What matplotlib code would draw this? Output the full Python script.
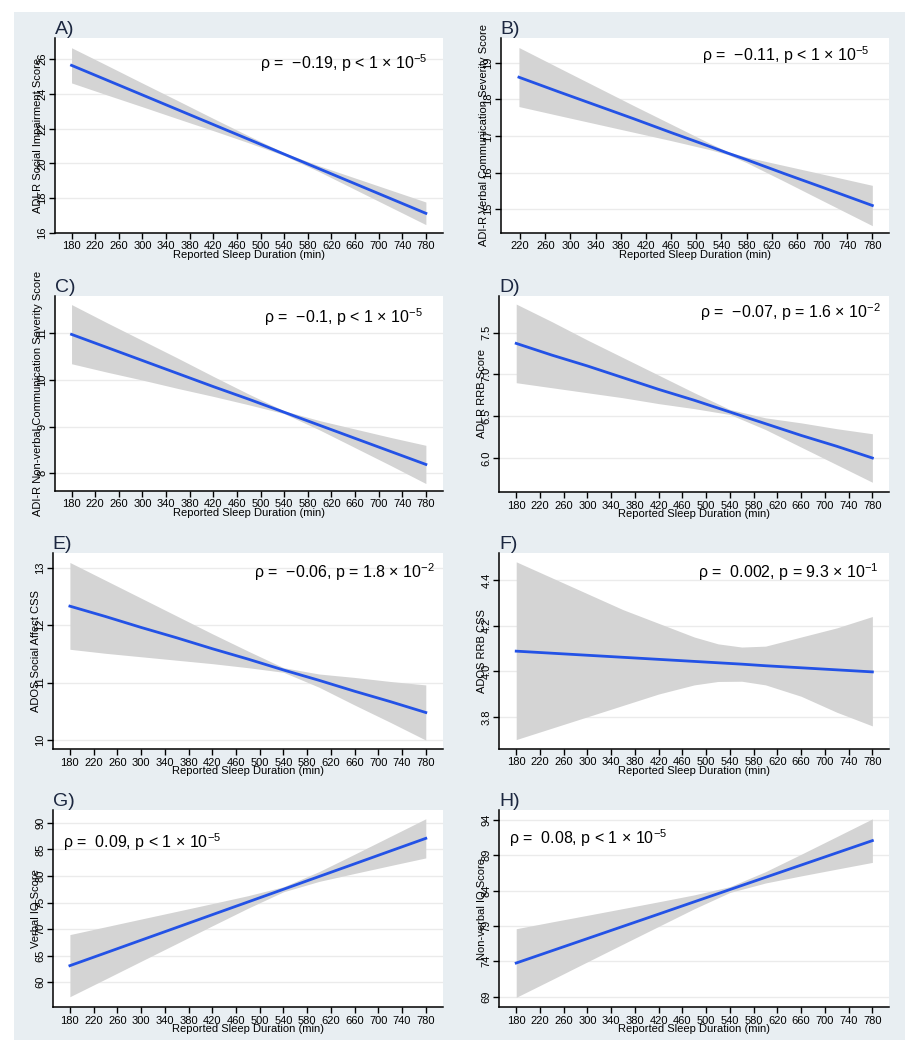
import numpy as np
import matplotlib.pyplot as plt
from matplotlib.patches import Rectangle

plt.rcParams['font.family'] = ['Liberation Sans', 'DejaVu Sans']
plt.rcParams['mathtext.fontset'] = 'custom'
plt.rcParams['mathtext.rm'] = 'Liberation Sans'
plt.rcParams['mathtext.it'] = 'Liberation Sans:italic'
plt.rcParams['mathtext.bf'] = 'Liberation Sans:bold'

# sleep duration grid (min) where fit and CI band were read
sleep = [180, 240, 300, 360, 420, 480, 540, 600, 660, 720, 780]
sleep_b = [218, 280, 340, 400, 460, 520, 550, 580, 640, 700, 780]

fit_a = [25.63, 24.78, 23.93, 23.08, 22.23, 21.38, 20.53, 19.68, 18.83, 17.98, 17.13]
hi_a = [26.64, 25.63, 24.61, 23.60, 22.58, 21.58, 20.61, 19.85, 19.16, 18.47, 17.78]
lo_a = [24.62, 23.93, 23.25, 22.56, 21.88, 21.18, 20.45, 19.51, 18.50, 17.49, 16.48]

fit_b = [18.60, 18.21, 17.84, 17.47, 17.09, 16.72, 16.53, 16.35, 15.97, 15.60, 15.10]
hi_b = [19.41, 18.87, 18.35, 17.83, 17.32, 16.81, 16.57, 16.42, 16.19, 15.96, 15.65]
lo_b = [17.80, 17.56, 17.33, 17.10, 16.87, 16.63, 16.49, 16.27, 15.76, 15.24, 14.55]

fit_c = [10.98, 10.70, 10.42, 10.14, 9.86, 9.59, 9.31, 9.03, 8.75, 8.47, 8.19]
hi_c = [11.62, 11.23, 10.85, 10.47, 10.08, 9.70, 9.34, 9.13, 8.95, 8.77, 8.60]
lo_c = [10.35, 10.17, 10.00, 9.82, 9.65, 9.47, 9.28, 8.93, 8.55, 8.17, 7.78]

fit_d = [7.37, 7.23, 7.10, 6.96, 6.82, 6.69, 6.55, 6.41, 6.27, 6.14, 6.00]
hi_d = [7.84, 7.63, 7.41, 7.20, 6.99, 6.78, 6.58, 6.48, 6.42, 6.35, 6.29]
lo_d = [6.90, 6.84, 6.78, 6.72, 6.65, 6.59, 6.52, 6.34, 6.13, 5.92, 5.71]

fit_e = [12.33, 12.15, 11.96, 11.78, 11.59, 11.41, 11.22, 11.04, 10.85, 10.67, 10.48]
hi_e = [13.09, 12.78, 12.47, 12.16, 11.85, 11.55, 11.26, 11.15, 11.09, 11.02, 10.96]
lo_e = [11.58, 11.51, 11.45, 11.39, 11.33, 11.26, 11.18, 10.92, 10.61, 10.31, 10.00]

# panel F has a wide, rounded band, read at a finer grid
sleep_f = [180, 240, 300, 360, 420, 480, 520, 560, 600, 660, 720, 780]
fit_f = [4.088, 4.079, 4.070, 4.061, 4.052, 4.043, 4.037, 4.031, 4.024, 4.015, 4.006, 3.997]
hi_f = [4.48, 4.41, 4.34, 4.27, 4.21, 4.15, 4.12, 4.106, 4.11, 4.15, 4.19, 4.24]
lo_f = [3.70, 3.75, 3.80, 3.85, 3.90, 3.94, 3.955, 3.956, 3.94, 3.89, 3.82, 3.76]

fit_g = [63.13, 65.52, 67.92, 70.31, 72.71, 75.10, 77.49, 79.89, 82.28, 84.68, 87.07]
hi_g = [68.97, 70.43, 71.89, 73.34, 74.80, 76.28, 77.96, 80.81, 84.09, 87.42, 90.75]
lo_g = [57.29, 60.61, 63.95, 67.28, 70.62, 73.92, 77.02, 78.97, 80.47, 81.94, 83.39]

fit_h = [73.76, 75.49, 77.22, 78.95, 80.68, 82.42, 84.15, 85.88, 87.61, 89.34, 91.07]
hi_h = [78.61, 79.57, 80.51, 81.46, 82.42, 83.40, 84.56, 86.68, 89.14, 91.64, 94.15]
lo_h = [68.91, 71.41, 73.93, 76.44, 78.94, 81.44, 83.74, 85.08, 86.08, 87.04, 87.99]

panel_tags = ['A)', 'B)', 'C)', 'D)', 'E)', 'F)', 'G)', 'H)']
ylabels = ['ADI-R Social Impairment Score',
           'ADI-R Verbal Communication Severity Score',
           'ADI-R Non-verbal Communication Severity Score',
           'ADI-R RRB Score',
           'ADOS Social Affect CSS',
           'ADOS RRB CSS',
           'Verbal IQ Score',
           'Non-verbal IQ Score']
stat_text = ['ρ =  \u22120.19, p < 1 × 10$^{-5}$',
             'ρ =  \u22120.11, p < 1 × 10$^{-5}$',
             'ρ =  \u22120.1, p < 1 × 10$^{-5}$',
             'ρ =  \u22120.07, p = 1.6 × 10$^{-2}$',
             'ρ =  \u22120.06, p = 1.8 × 10$^{-2}$',
             'ρ =  0.002, p = 9.3 × 10$^{-1}$',
             'ρ =  0.09, p < 1 × 10$^{-5}$',
             'ρ =  0.08, p < 1 × 10$^{-5}$']
yticks = [[16, 18, 20, 22, 24, 26],
          [15, 16, 17, 18, 19],
          [8, 9, 10, 11],
          [6.0, 6.5, 7.0, 7.5],
          [10, 11, 12, 13],
          [3.8, 4.0, 4.2, 4.4],
          [60, 65, 70, 75, 80, 85, 90],
          [69, 74, 79, 84, 89, 94]]
ytick_labels = [['16', '18', '20', '22', '24', '26'],
                ['15', '16', '17', '18', '19'],
                ['8', '9', '10', '11'],
                ['6.0', '6.5', '7.0', '7.5'],
                ['10', '11', '12', '13'],
                ['3.8', '4.0', '4.2', '4.4'],
                ['60', '65', '70', '75', '80', '85', '90'],
                ['69', '74', '79', '84', '89', '94']]

xs = [sleep, sleep_b, sleep, sleep, sleep, sleep_f, sleep, sleep]
fits = [fit_a, fit_b, fit_c, fit_d, fit_e, fit_f, fit_g, fit_h]
his = [hi_a, hi_b, hi_c, hi_d, hi_e, hi_f, hi_g, hi_h]
los = [lo_a, lo_b, lo_c, lo_d, lo_e, lo_f, lo_g, lo_h]

W, H = 919, 1050
# plot regions in pixels: left, top, right, bottom
boxes = [(55, 38, 443, 233), (500.7, 38, 889, 233),
         (55, 295.7, 443, 491), (499, 295.7, 889, 492.3),
         (52.7, 552.7, 443, 749.3), (499, 552.7, 889, 748.7),
         (52.7, 810, 443, 1007.3), (499, 810, 889, 1007.3)]
xlims = [(152, 809), (189, 806.5), (152, 809), (151, 808),
         (151, 809), (151, 808), (151, 809), (151, 808)]
ylims = [(16, 27.2), (14.35, 19.67), (7.62, 11.81), (5.59, 7.94),
         (9.84, 13.26), (3.66, 4.52), (55.3, 92.4), (67.5, 95.4)]
text_pos = [(0.959, 0.872, 'right'), (0.950, 0.913, 'right'),
            (0.948, 0.892, 'right'), (0.979, 0.918, 'right'),
            (0.980, 0.903, 'right'), (0.974, 0.903, 'right'),
            (0.027, 0.839, 'left'), (0.026, 0.857, 'left')]

fig = plt.figure(figsize=(W / 100, H / 100), dpi=100)
fig.patch.set_facecolor('white')
fig.patches.append(Rectangle((14 / W, 1 - 1040 / H), (905 - 14) / W, (1040 - 12) / H,
                             transform=fig.transFigure, facecolor='#e8eef2',
                             edgecolor='none', zorder=-10))

for i in range(8):
    l, t, r, b = boxes[i]
    wpx, hpx = r - l, b - t
    ax = fig.add_axes([l / W, 1 - b / H, wpx / W, hpx / H])
    ax.set_facecolor('white')
    ax.fill_between(xs[i], los[i], his[i], color='#d4d4d4', lw=0, zorder=2)
    ax.plot(xs[i], fits[i], color='#2352e6', lw=2, zorder=3)
    ax.set_xlim(*xlims[i])
    ax.set_ylim(*ylims[i])
    start = 220 if i == 1 else 180
    ax.set_xticks(np.arange(start, 781, 40))
    ax.set_yticks(yticks[i])
    ax.set_yticklabels(ytick_labels[i])
    ax.grid(axis='y', color='#ebebeb', lw=1)
    ax.set_axisbelow(True)
    for s in ['top', 'right']:
        ax.spines[s].set_visible(False)
    for s in ['left', 'bottom']:
        ax.spines[s].set_linewidth(1.1)
    ax.tick_params(axis='x', length=4, width=1, pad=2, labelsize=8)
    ax.tick_params(axis='y', length=4, width=1, pad=1.5, labelsize=8, labelrotation=90)
    for lbl in ax.get_yticklabels():
        lbl.set_va('center')
    ax.set_xlabel('Reported Sleep Duration (min)', fontsize=8)
    ax.xaxis.set_label_coords(0.5, -22 / hpx)
    ax.xaxis.label.set_va('center')
    ax.set_ylabel(ylabels[i], fontsize=8)
    ax.yaxis.set_label_coords(-17 / wpx, 0.5)
    ax.yaxis.label.set_va('center')
    ax.text(0, 1.0, panel_tags[i], transform=ax.transAxes, fontsize=14,
            color='#1c2740', ha='left', va='bottom')
    tx, ty, ha = text_pos[i]
    ax.text(tx, ty, stat_text[i], transform=ax.transAxes, fontsize=11.5,
            ha=ha, va='center', zorder=5)

fig.savefig('out.png', dpi=100, facecolor='white')
